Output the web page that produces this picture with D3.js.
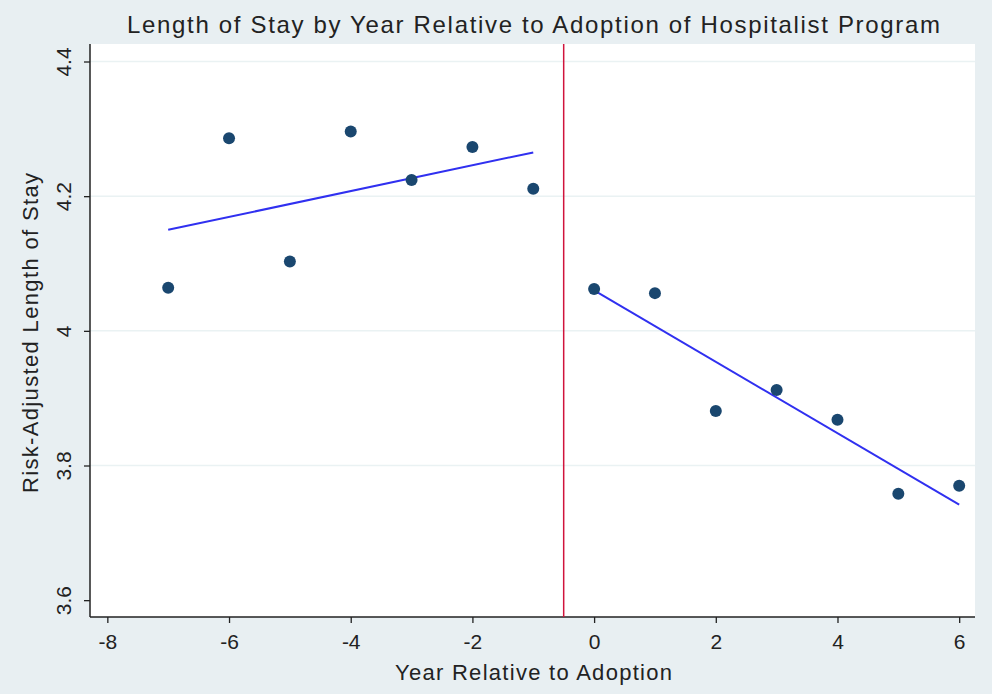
<!DOCTYPE html>
<html>
<head>
<meta charset="utf-8">
<script src="https://cdn.jsdelivr.net/npm/d3@7"></script>
<style>
  html, body { margin: 0; padding: 0; background: #e8eff2; }
  svg { display: block; font-family: "Liberation Sans", Arial, sans-serif; }
</style>
</head>
<body>
<svg id="chart" width="992" height="694"></svg>
<script>
// Years relative to hospitalist adoption and risk-adjusted length of stay
const yearsBefore = [-7, -6, -5, -4, -3, -2, -1];
const losBefore   = [4.064, 4.286, 4.103, 4.296, 4.224, 4.273, 4.211];
const yearsAfter  = [0, 1, 2, 3, 4, 5, 6];
const losAfter    = [4.062, 4.056, 3.881, 3.912, 3.868, 3.758, 3.770];

// Fitted linear trend for each period (endpoints)
const fitBefore = [[-7, 4.150], [-1, 4.265]];
const fitAfter  = [[0, 4.060], [6, 3.742]];

const adoptionCut = -0.5;
const xTicks = [-8, -6, -4, -2, 0, 2, 4, 6];
const yTicks = [3.6, 3.8, 4.0, 4.2, 4.4];

const svg = d3.select("#chart");
const W = 992, H = 694;
const m = { left: 90, right: 17, top: 44, bottom: 77 };

svg.append("rect").attr("width", W).attr("height", H).attr("fill", "#e8eff2");

const x = d3.scaleLinear().domain([-8.285, 6.26]).range([m.left, W - m.right]);
const y = d3.scaleLinear().domain([3.575, 4.426]).range([H - m.bottom, m.top]);

// plot region
svg.append("rect")
  .attr("x", m.left).attr("y", m.top)
  .attr("width", W - m.left - m.right).attr("height", H - m.top - m.bottom)
  .attr("fill", "#ffffff");

// horizontal grid
svg.append("g").selectAll("line").data(yTicks.filter(d => d > 3.6)).join("line")
  .attr("x1", m.left).attr("x2", W - m.right)
  .attr("y1", d => y(d)).attr("y2", d => y(d))
  .attr("stroke", "#eaf2f3").attr("stroke-width", 1.5);

// y axis
const yAxis = svg.append("g").attr("transform", `translate(${m.left},0)`)
  .call(d3.axisLeft(y).tickValues(yTicks).tickSize(6).tickFormat(d3.format(".1f")));
yAxis.select(".domain").attr("stroke", "#222").attr("stroke-width", 1.5)
  .attr("d", `M0,${m.top}V${H - m.bottom}`);
yAxis.selectAll(".tick line").attr("stroke", "#222").attr("stroke-width", 1.3);
yAxis.selectAll(".tick text")
  .text(d => d === 4 ? "4" : d3.format(".1f")(d))
  .attr("font-size", 21).attr("fill", "#222")
  .attr("x", 0).attr("dy", 0)
  .attr("text-anchor", "middle")
  .attr("transform", "translate(-19,0) rotate(-90)");

// x axis
const xAxis = svg.append("g").attr("transform", `translate(0,${H - m.bottom})`)
  .call(d3.axisBottom(x).tickValues(xTicks).tickSize(6).tickFormat(d3.format("d")));
xAxis.select(".domain").attr("stroke", "#222").attr("stroke-width", 1.5)
  .attr("d", `M${m.left},0H${W - m.right}`);
xAxis.selectAll(".tick line").attr("stroke", "#222").attr("stroke-width", 1.3);
xAxis.selectAll(".tick text")
  .text(d => d < 0 ? "-" + Math.abs(d) : d)
  .attr("font-size", 21).attr("fill", "#222").attr("y", 17).attr("dy", "0.71em");

// adoption marker
svg.append("line")
  .attr("x1", x(adoptionCut)).attr("x2", x(adoptionCut))
  .attr("y1", m.top).attr("y2", H - m.bottom)
  .attr("stroke", "#d0143c").attr("stroke-width", 1.5);

// fitted lines
const line = d3.line().x(d => x(d[0])).y(d => y(d[1]));
[fitBefore, fitAfter].forEach(seg => {
  svg.append("path").attr("d", line(seg))
    .attr("fill", "none").attr("stroke", "#3030f0").attr("stroke-width", 2);
});

// points
const pts = yearsBefore.map((v, i) => [v, losBefore[i]])
  .concat(yearsAfter.map((v, i) => [v, losAfter[i]]));
svg.append("g").selectAll("circle").data(pts).join("circle")
  .attr("cx", d => x(d[0])).attr("cy", d => y(d[1])).attr("r", 6)
  .attr("fill", "#1a476f");

// titles
svg.append("text").attr("x", 127).attr("y", 33)
  .attr("font-size", 24).attr("fill", "#222")
  .attr("textLength", 813).attr("lengthAdjust", "spacing")
  .text("Length of Stay by Year Relative to Adoption of Hospitalist Program");

svg.append("text").attr("x", 395).attr("y", 680)
  .attr("font-size", 22).attr("fill", "#222")
  .attr("textLength", 277).attr("lengthAdjust", "spacing")
  .text("Year Relative to Adoption");

svg.append("text").attr("transform", `translate(38,493) rotate(-90)`)
  .attr("font-size", 22).attr("fill", "#222")
  .attr("textLength", 320).attr("lengthAdjust", "spacing")
  .text("Risk-Adjusted Length of Stay");
</script>
</body>
</html>
